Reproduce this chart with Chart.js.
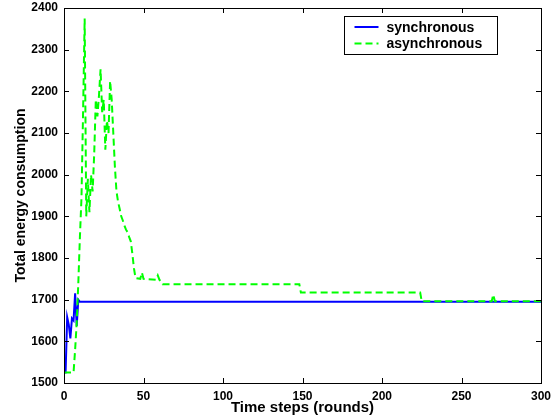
<!DOCTYPE html>
<html>
<head>
<meta charset="utf-8">
<script src="https://cdn.jsdelivr.net/npm/chart.js@4"></script>
<style>
  body { margin: 0; background: #fff; }
</style>
</head>
<body>
<canvas id="myChart" width="557" height="419"></canvas>
<script>
// time steps and total energy
const syncSteps = [0, 1, 2, 3, 4, 5, 6, 7, 8, 9, 10, 300];
const syncEnergy = [1525, 1525, 1658, 1640, 1607, 1655, 1650, 1715, 1637, 1700, 1695, 1695];

const asyncSteps = [0, 6, 7, 8, 9, 10, 11, 12, 13, 14, 15, 16, 17, 18, 19, 20, 21, 22, 23, 24,
  25, 26, 27, 28, 29, 30, 31, 32, 33, 34, 35, 36, 37, 38, 39, 40, 41, 42, 43, 44, 45, 48, 49, 50,
  58, 59, 60, 62, 148, 149, 224, 225, 269, 270, 271, 300];
const asyncEnergy = [1525, 1525, 1580, 1645, 1740, 1850, 1945, 2150, 2375, 1900, 1990, 1910, 2000, 1960, 2050, 2180, 2140, 2190, 2253, 2150,
  2180, 2060, 2130, 2100, 2225, 2180, 2100, 2020, 1960, 1935, 1918, 1900, 1890, 1878, 1868, 1862, 1850, 1840, 1810, 1775, 1752, 1750, 1765, 1750,
  1748, 1758, 1748, 1737, 1737, 1717, 1717, 1696, 1696, 1712, 1696, 1696];

const xTicks = [0, 50, 100, 150, 200, 250, 300];
const yTicks = [1500, 1600, 1700, 1800, 1900, 2000, 2100, 2200, 2300, 2400];

const FONT = "'Liberation Sans', Arial, Helvetica, sans-serif";

function toPoints(xs, ys) {
  return xs.map((x, i) => ({ x: x, y: ys[i] }));
}

// box around the axes, inward ticks, legend in the top right corner
const frame = {
  id: "frame",
  afterDatasetsDraw(chart) {
    const c = chart.ctx;
    const a = chart.chartArea;
    const xs = chart.scales.x;
    const ys = chart.scales.y;
    c.save();
    c.strokeStyle = "#000";
    c.lineWidth = 1;
    c.beginPath();
    xTicks.forEach(v => {
      const px = Math.round(xs.getPixelForValue(v)) + 0.5;
      c.moveTo(px, a.bottom); c.lineTo(px, a.bottom - 5);
      c.moveTo(px, a.top); c.lineTo(px, a.top + 5);
    });
    yTicks.forEach(v => {
      const py = Math.round(ys.getPixelForValue(v)) + 0.5;
      c.moveTo(a.left, py); c.lineTo(a.left + 5, py);
      c.moveTo(a.right, py); c.lineTo(a.right - 5, py);
    });
    c.stroke();
    c.strokeRect(Math.round(a.left) + 0.5, Math.round(a.top) + 0.5,
      Math.round(a.right - a.left), Math.round(a.bottom - a.top));

    // legend
    const lx = Math.round(a.right) - 196.5, ly = Math.round(a.top) + 8.5;
    c.fillStyle = "#fff";
    c.fillRect(lx, ly, 153, 38);
    c.strokeRect(lx, ly, 153, 38);
    c.font = "bold 14px " + FONT;
    c.textBaseline = "middle";
    chart.data.datasets.forEach((ds, i) => {
      const yy = ly + 10.5 + i * 16.5;
      c.strokeStyle = ds.borderColor;
      c.lineWidth = 2;
      c.setLineDash(ds.borderDash || []);
      c.beginPath();
      c.moveTo(lx + 10, yy); c.lineTo(lx + 34, yy);
      c.stroke();
      c.setLineDash([]);
      c.fillStyle = "#000";
      c.fillText(ds.label, lx + 42, yy + 1);
    });
    c.restore();
  }
};

const ctx = document.getElementById("myChart").getContext("2d");
const chart = new Chart(ctx, {
  type: "line",
  data: {
    datasets: [
      {
        label: "synchronous",
        data: toPoints(syncSteps, syncEnergy),
        borderColor: "#0000ff",
        borderWidth: 2,
        pointRadius: 0,
        tension: 0,
        order: 1
      },
      {
        label: "asynchronous",
        data: toPoints(asyncSteps, asyncEnergy),
        borderColor: "#00ff00",
        borderWidth: 2,
        borderDash: [7, 4],
        pointRadius: 0,
        tension: 0,
        order: 0
      }
    ]
  },
  options: {
    responsive: false,
    animation: false,
    devicePixelRatio: 1,
    layout: { padding: { top: 8, right: 16, left: 0, bottom: 0 } },
    plugins: {
      legend: { display: false },
      tooltip: { enabled: false }
    },
    scales: {
      x: {
        type: "linear",
        min: 0,
        max: 300,
        afterBuildTicks: s => { s.ticks = xTicks.map(v => ({ value: v })); },
        afterFit: s => { s.height = 36; s.paddingLeft = 0; s.paddingRight = 0; },
        ticks: {
          color: "#000",
          font: { family: FONT, size: 12, weight: "bold" },
          padding: 6,
          maxRotation: 0,
          callback: v => String(v)
        },
        grid: { display: false, drawTicks: false },
        border: { display: false },
        title: {
          display: true,
          text: "Time steps (rounds)",
          color: "#000",
          font: { family: FONT, size: 15, weight: "bold" },
          padding: { top: 0, bottom: 2 }
        }
      },
      y: {
        min: 1500,
        max: 2400,
        afterBuildTicks: s => { s.ticks = yTicks.map(v => ({ value: v })); },
        afterFit: s => { s.width = 64; s.paddingTop = 0; s.paddingBottom = 0; },
        ticks: {
          color: "#000",
          font: { family: FONT, size: 12, weight: "bold" },
          padding: 6,
          callback: v => String(v)
        },
        grid: { display: false, drawTicks: false },
        border: { display: false },
        title: {
          display: true,
          text: "Total energy consumption",
          color: "#000",
          font: { family: FONT, size: 14, weight: "bold" },
          padding: { top: 13, bottom: 0 }
        }
      }
    }
  },
  plugins: [frame]
});
</script>
</body>
</html>
